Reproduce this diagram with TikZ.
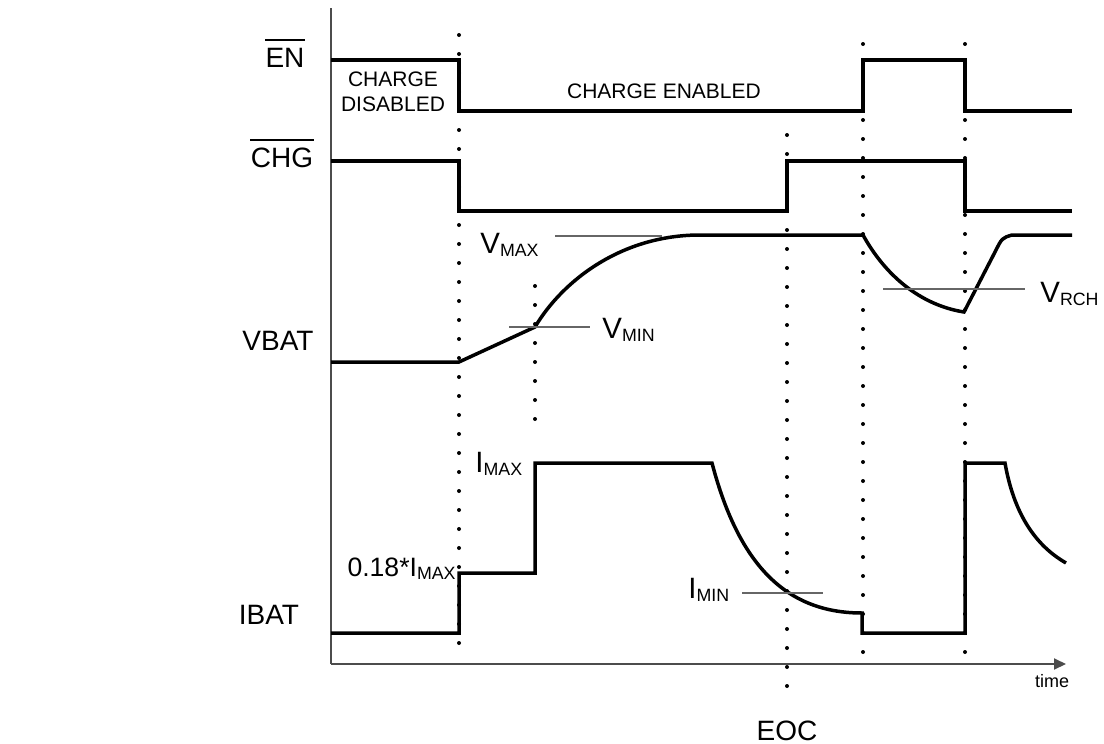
\documentclass[tikz,border=0pt]{standalone}
\usepackage{fontspec}
\setmainfont{Liberation Sans}
\usetikzlibrary{arrows.meta,positioning,calc}

\newcommand{\lvlname}[2]{#1\raisebox{-1.7pt}{\fontsize{8.9}{10}\selectfont #2}}

\begin{document}
\begin{tikzpicture}[x=0.5pt,y=-0.5pt,
    wave/.style={line width=1.75pt, line join=miter},
    level/.style={line width=0.75pt, black!60},
    dots/.style={line width=2pt, line cap=round, dash pattern=on 0pt off 9.5pt},
    sig/.style={font=\fontsize{14}{16}\selectfont, inner sep=0pt, anchor=base},
    thr/.style={font=\fontsize{14.7}{16}\selectfont, inner sep=0pt, anchor=base west},
    note/.style={font=\fontsize{10.5}{12.5}\selectfont, inner sep=0pt, align=center}]
\useasboundingbox (0,0) rectangle (1104,744);

% axes
\draw[line width=1pt, black!70] (331,8) -- (331,664);
\draw[line width=1pt, black!70, -{Triangle[length=6pt,width=5.5pt]}] (331,664) -- (1066,664);

% dotted time marks
\draw[dots] (459,35) -- (459,652);
\draw[dots] (535,286) -- (535,420);
\draw[dots] (787,135) -- (787,693);
\draw[dots] (863,44) -- (863,660);
\draw[dots] (965,44) -- (965,660);

% EN
\draw[wave] (331,60) -- (459,60) -- (459,111) -- (863,111) -- (863,60) -- (965,60) -- (965,111) -- (1072,111);
% CHG
\draw[wave] (331,161) -- (459,161) -- (459,211) -- (787,211) -- (787,161) -- (965,161) -- (965,211) -- (1072,211);
% VBAT
\draw[wave] (331,362) -- (459,362) -- (535,327)
    .. controls (563,280) and (622,235) .. (700,235) -- (863,235)
    .. controls (885,275) and (920,305) .. (964,312) -- (995,252)
    .. controls (1002,238) .. (1012,235) -- (1072,235);
% IBAT
\draw[wave] (331,633) -- (459,633) -- (459,573) -- (535,573) -- (535,463) -- (712,463)
    .. controls (740,570) and (790,613) .. (862,613) -- (862,633) -- (965,633)
    -- (965,463) -- (1005,463) .. controls (1015,520) and (1040,548) .. (1066,563);

% thresholds
\draw[level] (555,236) -- (662,236);
\draw[level] (509,327) -- (590,327);
\draw[level] (883,289) -- (1025,289);
\draw[level] (742,593) -- (823,593);

% labels
\node[sig] (en) at (285,67) {EN};
\draw[line width=0.7pt] ([yshift=3.6pt]en.north west) -- ([yshift=3.6pt]en.north east);
\node[sig] (chg) at (282,167) {CHG};
\draw[line width=0.7pt] ([yshift=3.6pt]chg.north west) -- ([yshift=3.6pt]chg.north east);
\node[sig] (vbat) at (278,350) {VBAT};
\node[sig] (ibat) at (269,624) {IBAT};
\node[sig] (eoc) at (787,740) {EOC};
\node[font=\fontsize{9}{10}\selectfont, inner sep=0pt, anchor=base] (time) at (1052,687) {time};

\node[note] (disabled) at (393,92) {CHARGE\\DISABLED};
\node[note, anchor=base] (enabled) at (664,98) {CHARGE ENABLED};

\node[thr] (vmax) at (480,253) {\lvlname{V}{MAX}};
\node[thr] (vmin) at (602,338) {\lvlname{V}{MIN}};
\node[thr] (vrch) at (1040,302) {\lvlname{V}{RCH}};
\node[thr] (imax) at (475,472) {\lvlname{I}{MAX}};
\node[thr] (imin) at (688,598) {\lvlname{I}{MIN}};
\node[thr, anchor=base east, font=\fontsize{13.3}{15}\selectfont] (imin18) at (456,576) {0.18*\lvlname{I}{MAX}};
\end{tikzpicture}
\end{document}
